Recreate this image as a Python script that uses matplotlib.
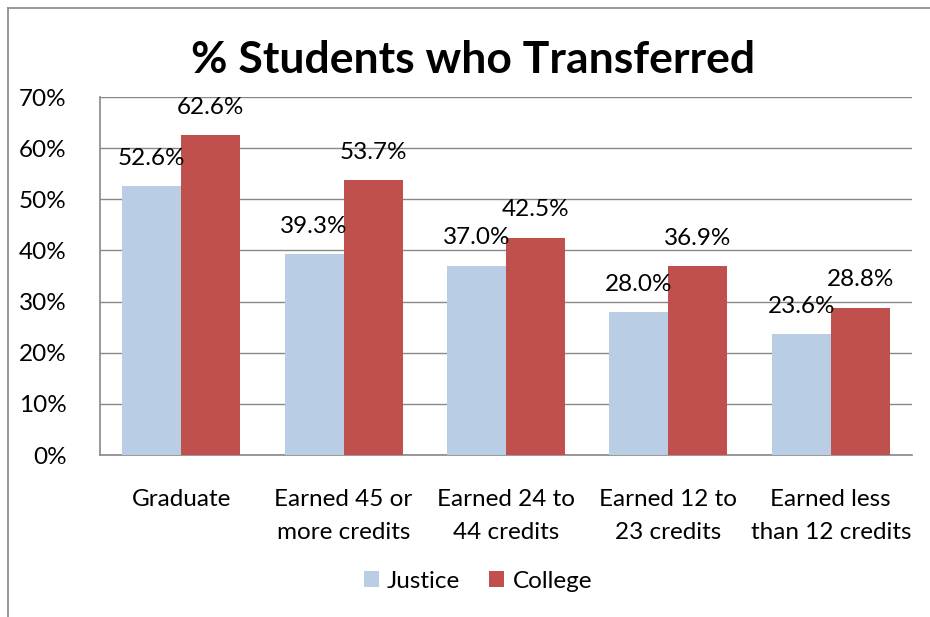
import matplotlib
matplotlib.use("Agg")
import matplotlib.pyplot as plt
from matplotlib.lines import Line2D
import numpy as np

categories = ["Graduate", "Earned 45 or\nmore credits", "Earned 24 to\n44 credits",
              "Earned 12 to\n23 credits", "Earned less\nthan 12 credits"]
justice = [52.6, 39.3, 37.0, 28.0, 23.6]
college = [62.6, 53.7, 42.5, 36.9, 28.8]
yticks = [0, 10, 20, 30, 40, 50, 60, 70]

plt.rcParams['font.family'] = ['Lato', 'DejaVu Sans']

W, H = 930, 617
fig = plt.figure(figsize=(W / 100, H / 100), dpi=100)
ax = fig.add_axes([100 / W, 1 - 455 / H, 812 / W, (455 - 97) / H])

x = np.arange(len(categories))
bw = 1 / 2.75
c_j = "#B9CDE5"
c_c = "#C0504D"
b1 = ax.bar(x - bw / 2, justice, bw, color=c_j, label="Justice", zorder=3)
b2 = ax.bar(x + bw / 2, college, bw, color=c_c, label="College", zorder=3)

FS = 17.5
for bars, vals in ((b1, justice), (b2, college)):
    for r, v in zip(bars, vals):
        ax.annotate(f"{v:.1f}%", (r.get_x() + r.get_width() / 2, v),
                    xytext=(0, 20), textcoords="offset points",
                    ha="center", va="center", fontsize=FS, color="#000000", zorder=4)

ax.set_xlim(-0.5, len(categories) - 0.5)
ax.set_ylim(0, 70)
ax.set_yticks(yticks)
ax.set_yticklabels([f"{v}%" for v in yticks], fontsize=FS)
ax.set_xticks(x)
ax.set_xticklabels(categories, fontsize=FS, linespacing=1.72)
ax.tick_params(axis="y", length=0, pad=24)
ax.tick_params(axis="x", length=0, pad=24.5)
ax.yaxis.grid(True, color="#888888", linewidth=1, zorder=0)
ax.set_axisbelow(True)
for s in ["top", "right"]:
    ax.spines[s].set_visible(False)
for s in ["left", "bottom"]:
    ax.spines[s].set_color("#888888")
    ax.spines[s].set_linewidth(1.2)

fig.text(473 / W, 1 - 60 / H, "% Students who Transferred", ha="center", va="center",
         fontsize=32, fontweight="bold")

leg = fig.legend(handles=[b1, b2], labels=["Justice", "College"], loc="center",
                 bbox_to_anchor=(478 / W, 1 - 581 / H), ncol=2, frameon=False,
                 fontsize=FS, handlelength=0.6, handleheight=0.6, handletextpad=0.35,
                 columnspacing=1.2)

# outer chart border (left and top)
fig.add_artist(Line2D([8 / W, 8 / W], [1 - 8 / H, 0.0], transform=fig.transFigure,
                      color="#888888", linewidth=1.2))
fig.add_artist(Line2D([8 / W, 1.0], [1 - 8 / H, 1 - 8 / H], transform=fig.transFigure,
                      color="#888888", linewidth=1.2))

fig.savefig("out.png", dpi=100, facecolor="white")
